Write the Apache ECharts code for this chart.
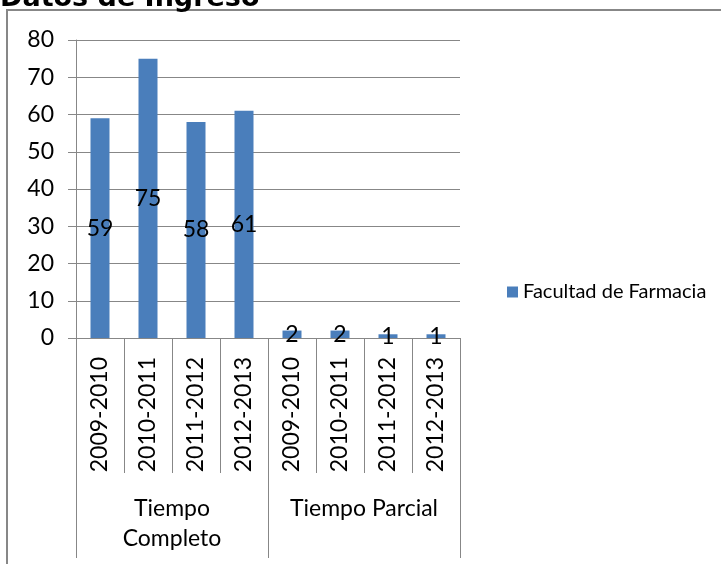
<!DOCTYPE html>
<html>
<head>
<meta charset="utf-8">
<script src="https://cdn.jsdelivr.net/npm/echarts@6/dist/echarts.min.js"></script>
<style>
  html, body { margin: 0; padding: 0; background: #fff; }
  #chart { width: 721px; height: 564px; }
</style>
</head>
<body>
<div id="chart"></div>
<script>
const years = ['2009-2010', '2010-2011', '2011-2012', '2012-2013',
               '2009-2010', '2010-2011', '2011-2012', '2012-2013'];
const groups = ['Tiempo Completo', 'Tiempo Parcial'];
const seriesName = 'Facultad de Farmacia';
const values = [59, 75, 58, 61, 2, 2, 1, 1];
const yTicks = [0, 10, 20, 30, 40, 50, 60, 70, 80];

const font = 'Lato';
const gray = '#878787';

const myChart = echarts.init(document.getElementById('chart'));

const option = {
    animation: false,
    graphic: [
        {
            type: 'rect',
            shape: { x: 7, y: 10, width: 720, height: 600 },
            style: { fill: 'none', stroke: gray, lineWidth: 2 },
            silent: true
        },
        {
            type: 'text',
            left: 0,
            top: -15,
            style: {
                text: 'Datos de Ingreso',
                fontFamily: 'DejaVu Sans',
                fontWeight: 'bold',
                fontSize: 27,
                fill: '#000'
            }
        }
    ],
    legend: {
        left: 502,
        top: 277,
        itemWidth: 11,
        itemHeight: 11,
        itemGap: 6,
        icon: 'rect',
        textStyle: { fontFamily: font, fontSize: 20, color: '#000' },
        data: [seriesName]
    },
    grid: {
        left: 76,
        right: 261,
        top: 40,
        bottom: 226
    },
    xAxis: [{
        type: 'category',
        data: years,
        axisLine: { show: true, lineStyle: { color: gray } },
        axisTick: { show: true, interval: 0, length: 135, lineStyle: { color: gray } },
        axisLabel: {
            interval: 0,
            rotate: 90,
            margin: 19,
            fontFamily: font,
            fontSize: 23,
            color: '#000'
        },
        splitLine: { show: false }
    }, {
        type: 'category',
        data: groups,
        position: 'bottom',
        axisLine: { show: false },
        axisTick: { show: true, interval: 0, length: 220, lineStyle: { color: gray } },
        axisLabel: {
            interval: 0,
            margin: 156,
            fontFamily: font,
            fontSize: 23,
            lineHeight: 30,
            color: '#000',
            formatter: v => v === 'Tiempo Completo' ? 'Tiempo\nCompleto' : v
        },
        splitLine: { show: false }
    }],
    yAxis: {
        type: 'value',
        min: yTicks[0],
        max: yTicks[yTicks.length - 1],
        interval: 10,
        axisLine: { show: true, lineStyle: { color: gray } },
        axisTick: { show: true, length: 8, lineStyle: { color: gray } },
        axisLabel: {
            margin: 22,
            fontFamily: font,
            fontSize: 23,
            color: '#000'
        },
        splitLine: { show: true, lineStyle: { color: gray, width: 1 } }
    },
    series: [{
        name: seriesName,
        type: 'bar',
        xAxisIndex: 0,
        data: values,
        barWidth: 19,
        itemStyle: { color: '#4a7ebb' },
        label: {
            show: true,
            position: 'inside',
            fontFamily: font,
            fontSize: 23,
            color: '#000'
        }
    }]
};

myChart.setOption(option);
</script>
</body>
</html>
